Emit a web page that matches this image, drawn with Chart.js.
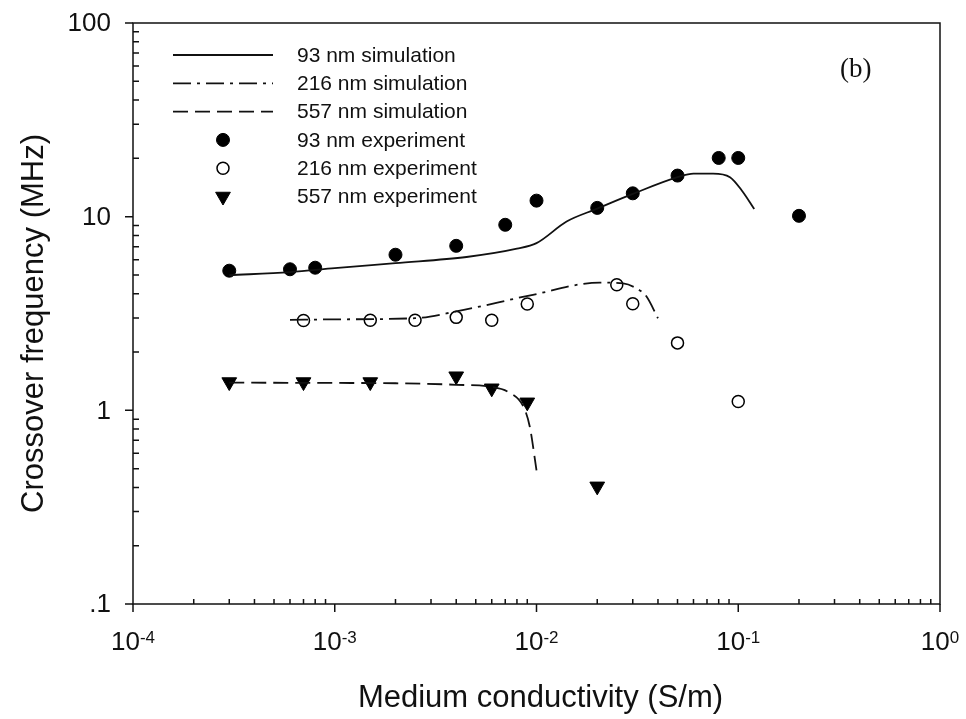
<!DOCTYPE html>
<html>
<head>
<meta charset="utf-8">
<script src="https://cdn.jsdelivr.net/npm/chart.js@4.4.1/dist/chart.umd.min.js"></script>
<style>
  html, body { margin: 0; padding: 0; background: #fff; }
  canvas { display: block; }
</style>
</head>
<body>
<canvas id="c" width="966" height="719"></canvas>
<script>
// Medium conductivity (S/m) vs. crossover frequency (MHz)

// Simulation curves
const sim93X  = [3e-4, 6e-4, 1e-3, 2e-3, 4.5e-3, 8e-3, 1e-2, 1.41e-2, 2e-2, 3e-2, 5e-2, 6e-2, 7.5e-2, 9.1e-2, 0.105, 0.12];
const sim93Y  = [4.99, 5.17, 5.42, 5.76, 6.19, 6.83, 7.3, 9.44, 11.0, 13.1, 16.0, 16.7, 16.7, 16.0, 13.5, 10.95];

const sim216X = [6e-4, 1e-3, 2.5e-3, 4e-3, 9.6e-3, 2.06e-2, 2.69e-2, 3.25e-2, 3.51e-2, 4e-2];
const sim216Y = [2.93, 2.95, 2.99, 3.24, 3.95, 4.57, 4.52, 4.16, 3.87, 2.99];

const sim557X = [3e-4, 1e-3, 2e-3, 4e-3, 6e-3, 7.38e-3, 8.59e-3, 9.27e-3, 1e-2];
const sim557Y = [1.39, 1.385, 1.38, 1.355, 1.32, 1.23, 1.05, 0.82, 0.49];

// Experimental points
const exp93X  = [3e-4, 6e-4, 8e-4, 2e-3, 4e-3, 7e-3, 1e-2, 2e-2, 3e-2, 5e-2, 8e-2, 0.1, 0.2];
const exp93Y  = [5.26, 5.35, 5.45, 6.36, 7.07, 9.08, 12.1, 11.1, 13.2, 16.3, 20.1, 20.1, 10.1];

const exp216X = [7e-4, 1.5e-3, 2.5e-3, 4e-3, 6e-3, 9e-3, 2.5e-2, 3e-2, 5e-2, 0.1];
const exp216Y = [2.91, 2.92, 2.92, 3.02, 2.92, 3.54, 4.45, 3.55, 2.23, 1.11];

const exp557X = [3e-4, 7e-4, 1.5e-3, 4e-3, 6e-3, 9e-3, 2e-2];
const exp557Y = [1.40, 1.40, 1.40, 1.50, 1.30, 1.10, 0.405];

// Axis ticks
const xTickExponents = [-4, -3, -2, -1, 0];
const yTickValues = [0.1, 1, 10, 100];
const yTickLabels = ['.1', '1', '10', '100'];

const xTitle = 'Medium conductivity (S/m)';
const yTitle = 'Crossover frequency (MHz)';
const panelTag = '(b)';

const SANS = '"Liberation Sans", Arial, sans-serif';
const SERIF = '"Liberation Serif", "Times New Roman", serif';
const INK = '#111';

const pts = (xs, ys) => xs.map((x, i) => ({ x, y: ys[i] }));

const lineStyle = { showLine: true, pointRadius: 0, borderColor: INK, borderWidth: 1.8,
                    cubicInterpolationMode: 'monotone', fill: false };

const datasets = [
  Object.assign({ label: '93 nm simulation',  data: pts(sim93X, sim93Y),   borderDash: [] }, lineStyle),
  Object.assign({ label: '216 nm simulation', data: pts(sim216X, sim216Y), borderDash: [18, 6, 3, 6] }, lineStyle),
  Object.assign({ label: '557 nm simulation', data: pts(sim557X, sim557Y), borderDash: [15, 7] }, lineStyle),
  { label: '93 nm experiment',  data: pts(exp93X, exp93Y),   showLine: false, pointStyle: 'circle',
    pointRadius: 6.5, pointBackgroundColor: '#000', pointBorderColor: '#000', pointBorderWidth: 1 },
  { label: '216 nm experiment', data: pts(exp216X, exp216Y), showLine: false, pointStyle: 'circle',
    pointRadius: 6, pointBackgroundColor: '#fff', pointBorderColor: '#000', pointBorderWidth: 1.5 },
  { label: '557 nm experiment', data: pts(exp557X, exp557Y), showLine: false, pointStyle: 'triangle',
    pointRotation: 180, pointRadius: 8.5, pointBackgroundColor: '#000', pointBorderColor: '#000', pointBorderWidth: 1 }
];

// Draws a legend marker matching a dataset's point style
function drawMarker(ctx, ds, cx, cy) {
  const r = ds.pointRadius;
  ctx.save();
  ctx.fillStyle = ds.pointBackgroundColor;
  ctx.strokeStyle = ds.pointBorderColor;
  ctx.lineWidth = ds.pointBorderWidth;
  ctx.beginPath();
  if (ds.pointStyle === 'triangle') {
    let rad = (ds.pointRotation || 0) * Math.PI / 180;
    for (let k = 0; k < 3; k++) {
      const px = cx + Math.sin(rad) * r, py = cy - Math.cos(rad) * r;
      k === 0 ? ctx.moveTo(px, py) : ctx.lineTo(px, py);
      rad += 2 * Math.PI / 3;
    }
    ctx.closePath();
  } else {
    ctx.arc(cx, cy, r, 0, Math.PI * 2);
  }
  ctx.fill();
  ctx.stroke();
  ctx.restore();
}

const frame = {
  id: 'frame',
  beforeDatasetsDraw(chart) {
    const { ctx, chartArea: a, scales: { x, y } } = chart;
    ctx.save();
    ctx.strokeStyle = INK;
    ctx.lineWidth = 1.5;
    ctx.strokeRect(a.left, a.top, a.right - a.left, a.bottom - a.top);

    ctx.beginPath();
    // y: minor ticks inward, decade ticks outward
    for (let e = -1; e < 2; e++) {
      for (let m = 2; m < 10; m++) {
        const py = y.getPixelForValue(m * Math.pow(10, e));
        ctx.moveTo(a.left, py); ctx.lineTo(a.left + 6, py);
      }
    }
    yTickValues.forEach(v => {
      const py = y.getPixelForValue(v);
      ctx.moveTo(a.left - 8, py); ctx.lineTo(a.left, py);
    });
    // x: minor ticks inward, decade ticks outward
    for (let e = -4; e < 0; e++) {
      for (let m = 2; m < 10; m++) {
        const px = x.getPixelForValue(m * Math.pow(10, e));
        ctx.moveTo(px, a.bottom); ctx.lineTo(px, a.bottom - 5);
      }
    }
    xTickExponents.forEach(e => {
      const px = x.getPixelForValue(Math.pow(10, e));
      ctx.moveTo(px, a.bottom); ctx.lineTo(px, a.bottom + 8);
    });
    ctx.stroke();

    // y tick labels
    ctx.fillStyle = INK;
    ctx.font = '26px ' + SANS;
    ctx.textAlign = 'right';
    ctx.textBaseline = 'middle';
    yTickValues.forEach((v, i) => {
      ctx.fillText(yTickLabels[i], a.left - 22, y.getPixelForValue(v) + 1);
    });

    // x tick labels: 10 with a raised exponent
    ctx.textAlign = 'left';
    ctx.textBaseline = 'alphabetic';
    const base = a.bottom + 46;
    xTickExponents.forEach(e => {
      const px = x.getPixelForValue(Math.pow(10, e));
      ctx.font = '26px ' + SANS;
      const w1 = ctx.measureText('10').width;
      ctx.font = '17px ' + SANS;
      const sup = String(e);
      const w2 = ctx.measureText(sup).width;
      const x0 = px - (w1 + w2) / 2;
      ctx.font = '26px ' + SANS;
      ctx.fillText('10', x0, base);
      ctx.font = '17px ' + SANS;
      ctx.fillText(sup, x0 + w1, base - 7);
    });

    // axis titles
    ctx.font = '31px ' + SANS;
    ctx.textAlign = 'center';
    ctx.fillText(xTitle, (a.left + a.right) / 2 + 4, 707);
    ctx.save();
    ctx.translate(43, (a.top + a.bottom) / 2 + 10);
    ctx.rotate(-Math.PI / 2);
    ctx.fillText(yTitle, 0, 0);
    ctx.restore();

    // panel tag
    ctx.font = '27px ' + SERIF;
    ctx.textAlign = 'left';
    ctx.fillText(panelTag, 840, 77);
    ctx.restore();
  },
  afterDraw(chart) {
    const { ctx } = chart;
    ctx.save();
    const rowY = i => 55 + i * 28.3;
    chart.data.datasets.forEach((ds, i) => {
      const cy = rowY(i);
      if (ds.showLine) {
        ctx.save();
        ctx.strokeStyle = ds.borderColor;
        ctx.lineWidth = ds.borderWidth;
        ctx.setLineDash(ds.borderDash);
        ctx.beginPath();
        ctx.moveTo(173, cy); ctx.lineTo(273, cy);
        ctx.stroke();
        ctx.restore();
      } else {
        drawMarker(ctx, ds, 223, cy);
      }
      ctx.fillStyle = INK;
      ctx.font = '21px ' + SANS;
      ctx.textAlign = 'left';
      ctx.textBaseline = 'middle';
      ctx.fillText(ds.label, 297, cy + 1);
    });
    ctx.restore();
  }
};

new Chart(document.getElementById('c'), {
  type: 'line',
  data: { datasets },
  options: {
    responsive: false,
    animation: false,
    events: [],
    layout: { padding: { left: 133, top: 23, right: 26, bottom: 115 } },
    scales: {
      x: { type: 'logarithmic', min: 1e-4, max: 1, display: false },
      y: { type: 'logarithmic', min: 0.1, max: 100, display: false }
    },
    plugins: { legend: { display: false }, tooltip: { enabled: false } }
  },
  plugins: [frame]
});
</script>
</body>
</html>
